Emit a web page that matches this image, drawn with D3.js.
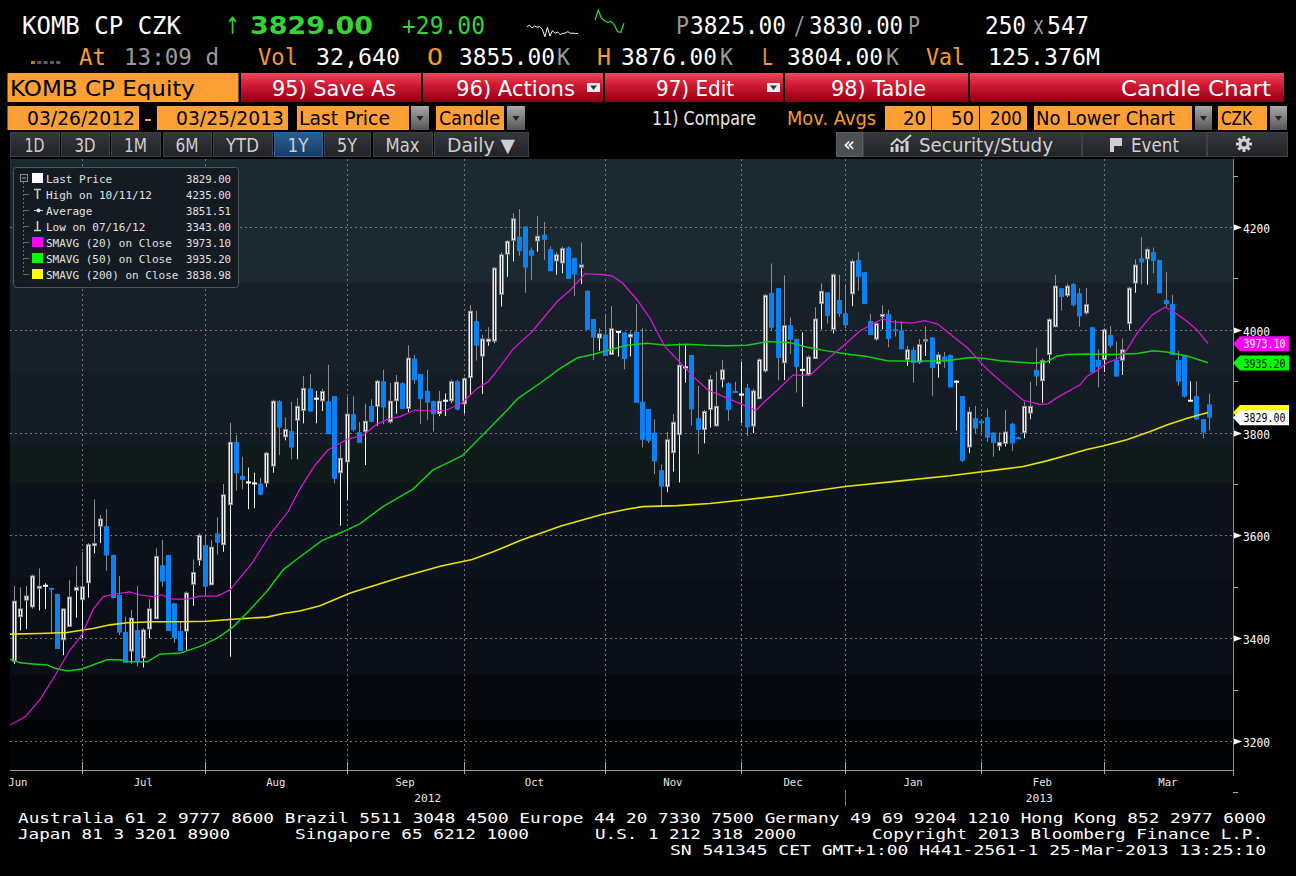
<!DOCTYPE html>
<html><head><meta charset="utf-8">
<script src="https://cdn.jsdelivr.net/npm/d3@7"></script>
<style>html,body{margin:0;padding:0;background:#000;overflow:hidden}svg{display:block}</style>
</head><body>
<svg id="c" width="1296" height="876"></svg>
<script>
// ---------------- DATA ----------------
const opens = [3354,3441,3473,3460,3496,3502,3498,3486,3396,3422,3492,3474,3507,3579,3617,3618,3562,3484,3412,3374,3416,3361,3417,3437,3542,3562,3468,3414,3413,3504,3551,3581,3503,3604,3581,3659,
3782,3716,3703,3701,3701,3701,3734,3861,3791,3803,3823,3842,3886,3866,3861,3861,3871,3721,3742,3836,3801,3801,3852,3850,3900,3820,3861,3896,3846,3944,3914,3881,3861,3836,3862,3861,3900,3855,
3906,4017,3948,3976,3977,4068,4146,4173,4181,4201,4155,4172,4185,4157,4133,4129,4160,4140,4121,4076,4021,3983,3991,3951,3996,3995,3985,3996,3860,3846,3800,3727,3694,3760,3795,3927,3951,3828,3805,3844,3812,3902,3896,3881,3874,3887,3812,3865,3919,4072,4081,
3935,4009,3982,3922,3912,3943,4050,4073,4000,4058,4032,4069,4136,4112,4017,3981,4025,4031,4001,3999,3941,3961,3936,3977,3985,3933,3948,3951,3899,3871,3771,3828,3823,3830,3800,3773,
3778,3817,3791,3799,3837,3922,3900,3951,4005,4081,4066,4089,4071,4032,4005,3941,3941,3990,3941,3940,4011,4090,4139,4137,4151,4136,4058,4050,3941,3949,3862,3871,3826,3855];
const highs = [3502,3499,3502,3524,3536,3507,3498,3487,3458,3513,3540,3568,3585,3670,3640,3651,3562,3521,3442,3455,3501,3420,3476,3575,3591,3562,3468,3431,3491,3553,3604,3601,3591,3635,3700,3819,
3795,3753,3732,3722,3712,3763,3864,3863,3830,3860,3867,3910,3914,3881,3885,3932,3871,3777,3870,3871,3821,3856,3865,3903,3922,3897,3912,3898,3970,3951,3914,3922,3862,3881,3876,3903,3903,3908,
4048,4037,3990,4005,4122,4151,4175,4227,4235,4201,4160,4221,4210,4162,4151,4162,4162,4140,4170,4077,4021,4003,4031,4046,3997,3995,3997,4050,4003,3846,3826,3738,3801,3836,3974,3970,3951,3891,3844,3912,3919,3941,3898,3899,3938,3895,3885,3945,4070,4129,4081,
4106,4024,3983,3995,3950,4044,4090,4073,4110,4107,4087,4137,4151,4112,4031,4015,4048,4039,4019,4016,3969,3967,3982,4007,3985,3957,3957,3952,3902,3871,3850,3852,3825,3847,3801,3800,
3844,3819,3792,3860,3899,3965,3944,4023,4107,4081,4090,4091,4081,4081,4005,3962,4003,4007,3977,3983,4084,4137,4180,4160,4160,4136,4112,4068,3959,3950,3900,3900,3826,3876];
const lows = [3350,3415,3418,3458,3454,3457,3408,3379,3367,3422,3440,3400,3479,3565,3585,3531,3478,3406,3352,3351,3345,3343,3400,3437,3500,3414,3391,3375,3377,3463,3541,3481,3503,3563,3568,3364,
3687,3690,3651,3653,3679,3694,3722,3756,3785,3748,3748,3818,3841,3818,3842,3797,3701,3619,3669,3802,3780,3737,3821,3813,3816,3818,3837,3846,3840,3895,3817,3825,3802,3832,3832,3858,3843,3837,
3873,3940,3875,3969,3974,4045,4103,4133,4144,4072,4097,4152,4136,4114,4107,4110,4099,4066,4089,4000,3941,3959,3949,3951,3948,3923,3948,3858,3771,3780,3719,3656,3684,3724,3703,3897,3814,3758,3779,3810,3812,3888,3823,3878,3818,3793,3799,3865,3917,4000,3902,
3902,3953,3878,3850,3910,3943,4001,4012,3993,4025,4003,4046,4076,4050,3990,3979,4001,3966,3987,3962,3930,3897,3934,3949,3871,3907,3926,3888,3804,3743,3760,3797,3800,3782,3753,3765,
3773,3764,3788,3789,3826,3891,3858,3935,4005,4037,4064,4045,4006,4030,3917,3888,3918,3965,3909,3912,3999,4072,4088,4088,4110,4071,4045,3951,3891,3868,3862,3824,3789,3804];
const closes = [3473,3458,3483,3522,3502,3502,3495,3379,3458,3481,3500,3501,3583,3585,3633,3561,3478,3411,3352,3440,3354,3417,3458,3560,3510,3414,3400,3375,3489,3529,3601,3500,3578,3586,3680,3782,
3721,3708,3703,3701,3679,3761,3862,3810,3807,3771,3852,3887,3841,3866,3881,3797,3710,3751,3837,3805,3780,3823,3821,3901,3849,3862,3899,3846,3946,3902,3865,3858,3836,3862,3862,3900,3845,3906,
4037,3969,3983,3983,4121,4147,4173,4217,4153,4121,4144,4183,4175,4114,4147,4159,4099,4108,4127,4000,3985,3993,3949,4003,3996,3943,3992,3858,3786,3784,3744,3695,3787,3821,3932,3927,3845,3805,3842,3904,3852,3923,3844,3878,3874,3810,3882,3943,4068,4004,3945,
4009,3981,3928,3922,3948,4022,4076,4027,4108,4031,4009,4134,4103,4050,3990,4013,4031,3982,3998,3962,3962,3935,3972,3982,3926,3952,3938,3888,3899,3745,3841,3808,3818,3790,3780,3782,
3802,3779,3789,3852,3852,3909,3941,4021,4086,4064,4086,4048,4026,4050,3917,3928,4001,3969,3909,3962,4082,4127,4131,4157,4134,4071,4050,3951,3899,3870,3862,3826,3800,3829];

// moving averages: [candle index, value]
const sma20 = [[-0.65,3231],[1.8,3247],[4.2,3280],[6.7,3328],[9.1,3377],[11,3406],[12.8,3455],[14.5,3481],[16.4,3486],[18.8,3490],[20.5,3484],[22.6,3481],[24,3484],[25.8,3476],[28.1,3476],[30.2,3482],[33,3482],[35.1,3494],[38.6,3545],[41.9,3607],[44.5,3646],[46.4,3690],[48.9,3737],[51,3766],[54.1,3787],[56.7,3795],[58.9,3816],[60.6,3826],[62.7,3831],[65.1,3844],[68,3842],[70.3,3844],[72.8,3858],[75.2,3886],[77,3899],[78.9,3928],[81,3962],[84.1,3996],[85.9,4022],[88.2,4055],[90.3,4077],[92.7,4109],[95.2,4108],[97.1,4105],[98.9,4090],[101.2,4058],[103.3,4022],[105.7,3967],[107.8,3941],[110.3,3909],[112.7,3883],[115.8,3867],[118.4,3854],[120.5,3843],[121.6,3857],[123.9,3882],[126.5,3912],[129.3,3912],[132,3942],[134.6,3968],[137.4,3998],[141,4021],[142.6,4016],[145.8,4013],[147.9,4018],[150,4011],[152.5,3987],[154.9,3964],[156.9,3937],[158.5,3918],[161.3,3889],[163.9,3863],[166.6,3855],[167.9,3856],[169.5,3869],[173.1,3893],[174.2,3909],[176,3922],[177.5,3936],[179.3,3944],[180.7,3961],[182.5,3996],[184.8,4029],[186.9,4044],[188,4038],[190.5,4016],[192.1,4000],[193.9,3973]];
const sma50 = [[-0.65,3359],[1,3352],[3.1,3350],[5.4,3348],[6.7,3341],[8.8,3336],[11,3340],[12.8,3348],[15.1,3358],[17.2,3358],[18.8,3354],[21.6,3354],[23.7,3369],[27,3371],[30.2,3384],[33,3400],[35.6,3422],[38.3,3455],[41.1,3492],[43.7,3533],[46.4,3558],[50,3590],[53.4,3607],[56.2,3623],[59.9,3656],[64.8,3690],[68,3727],[72.8,3755],[77,3806],[80.1,3844],[81.8,3866],[85.4,3896],[88.7,3925],[91.4,3945],[94,3952],[96.8,3961],[99.5,3970],[102.8,3974],[106,3970],[109.3,3972],[112.5,3970],[115.8,3969],[119,3970],[122.3,3977],[126,3975],[128.8,3966],[132,3959],[135.8,3952],[138.5,3948],[141.8,3940],[146,3939],[151.5,3940],[155.2,3946],[157.7,3944],[160.1,3940],[162.2,3938],[165.5,3935],[167.7,3938],[169.4,3949],[171,3952],[174.2,3953],[178.5,3952],[182.4,3954],[185,3959],[187.2,3957],[190.5,3949],[193.9,3936]];
const sma200 = [[-0.65,3408],[4.2,3409],[8.6,3411],[12.8,3419],[15.6,3426],[18.4,3430],[22.6,3432],[27,3432],[31.3,3433],[35.6,3437],[41.1,3441],[43.7,3448],[46.4,3453],[49.7,3463],[54.6,3488],[62.7,3518],[69.2,3540],[74.4,3553],[77.8,3568],[82.2,3590],[88.7,3618],[95.6,3641],[99.5,3651],[102.1,3656],[107.7,3658],[113,3662],[118.4,3669],[124.4,3677],[135,3695],[143.9,3706],[152,3716],[160.6,3729],[163.9,3734],[167.7,3745],[171,3756],[174.2,3767],[176.8,3774],[180.7,3786],[184.5,3802],[187.2,3815],[190.5,3828],[193.9,3839]];

const monthTicks = [11,31,54,73,96,118,135,157,177];
const monthNames = ["Jun","Jul","Aug","Sep","Oct","Nov","Dec","Jan","Feb","Mar"];
const yearNames = ["2012","2013"];
const yearBreakTick = 6; // index into monthTicks (Jan)
const yMajor = [3200,3400,3600,3800,4000,4200];
const yMinor = [3100,3300,3500,3700,3900,4100,4300];

const legendLabels = ["Last Price","High on 10/11/12","Average","Low on 07/16/12","SMAVG (20) on Close","SMAVG (50) on Close","SMAVG (200) on Close"];
const legendValues = ["3829.00","4235.00","3851.51","3343.00","3973.10","3935.20","3838.98"];
const tagValues = [3973.10, 3935.20, 3838.98, 3829.00];

const sparkW = [40,44,36,42,38,40,32,10,38,12,28,20,24,16,20,21,25,20,21,19,20];
const sparkG = [40,70,45,38,32,36,25,5,3,30];

const tabLabels = ["1D","3D","1M","6M","YTD","1Y","5Y","Max","Daily \u25BC"];
const footer1 = "Australia 61 2 9777 8600 Brazil 5511 3048 4500 Europe 44 20 7330 7500 Germany 49 69 9204 1210 Hong Kong 852 2977 6000";
const footer2 = ["Japan 81 3 3201 8900","Singapore 65 6212 1000","U.S. 1 212 318 2000","Copyright 2013 Bloomberg Finance L.P."];
const footer3 = "SN 541345 CET  GMT+1:00 H441-2561-1 25-Mar-2013 13:25:10";

// ---------------- DRAW ----------------
const MONO = "'DejaVu Sans Mono','Liberation Mono',monospace";
const SANS = "'DejaVu Sans','Liberation Sans',sans-serif";
const svg = d3.select('#c');
svg.append('rect').attr('width',1296).attr('height',876).attr('fill','#000');
const defs = svg.append('defs');
function grad(id, stops){
  const g = defs.append('linearGradient').attr('id',id).attr('x1',0).attr('y1',0).attr('x2',0).attr('y2',1);
  stops.forEach(s=>g.append('stop').attr('offset',s[0]).attr('stop-color',s[1]));
}
grad('red',[['0%','#f04a5c'],['40%','#d21a33'],['100%','#8e0016']]);
grad('dd',[['0%','#a8a8a8'],['100%','#555']]);
grad('tab',[['0%','#34373c'],['100%','#202226']]);
grad('tab1',[['0%','#2a5d93'],['100%','#173d66']]);

function T(g,x,y,s,o={}){
  const t = g.append('text').attr('x',x).attr('y',y).text(s)
    .attr('font-family',o.ff||MONO).attr('font-size',o.fs||12).attr('fill',o.fill||'#fff');
  if(o.fw) t.attr('font-weight',o.fw);
  if(o.anchor) t.attr('text-anchor',o.anchor);
  if(o.len) t.attr('textLength',o.len).attr('lengthAdjust','spacingAndGlyphs');
  return t;
}
const GREEN='#36d336', ORANGE='#f59c2c', GREY='#9a9a9a', BOX='#fca035';

// ---- header ----
const hd = svg.append('g');
T(hd,22,34,'KOMB CP CZK',{fs:24,len:159});
T(hd,225,34,'\u2191',{fs:24,fill:GREEN,ff:SANS,len:15});
T(hd,250,34,'3829.00',{ff:SANS,fs:25,fw:'bold',fill:GREEN,len:123});
T(hd,402,34,'+29.00',{fs:24,fill:GREEN,len:83});
{
  const sx = d3.scaleLinear().domain([0,sparkW.length-1]).range([527,578]);
  const sy = d3.scaleLinear().domain([10,44]).range([36.7,25.3]);
  hd.append('path').attr('d',d3.line().x((d,i)=>sx(i)).y(d=>sy(d))(sparkW)).attr('fill','none').attr('stroke','#fff').attr('stroke-width',1);
  const gx = d3.scaleLinear().domain([0,sparkG.length-1]).range([595,624]);
  const gy = d3.scaleLinear().domain([3,70]).range([32.3,10]);
  hd.append('path').attr('d',d3.line().x((d,i)=>gx(i)).y(d=>gy(d))(sparkG)).attr('fill','none').attr('stroke','#2ee02e').attr('stroke-width',1.2);
}
T(hd,676,34,'P',{fs:24,fill:GREY,len:13});
T(hd,690,34,'3825.00',{fs:24,len:96});
T(hd,794,34,'/',{fs:24,fill:GREY,len:11});
T(hd,809,34,'3830.00',{fs:24,len:94});
T(hd,908,34,'P',{fs:24,fill:GREY,len:12});
T(hd,985,34,'250',{fs:24,len:41});
T(hd,1033,34,'x',{fs:24,fill:GREY,len:11});
T(hd,1047,34,'547',{fs:24,len:42});

// row 2
[0,1,2,3,4].forEach(k=>hd.append('rect').attr('x',31+k*6.3).attr('y',61).attr('width',4).attr('height',3).attr('fill',k===0?'#c47a25':'#5e5e5e'));
T(hd,79,65,'At',{fs:23,fill:ORANGE,len:27});
T(hd,124,65,'13:09 d',{fs:23,fill:GREY,len:95});
T(hd,258,65,'Vol',{fs:23,fill:ORANGE,len:40});
T(hd,316,65,'32,640',{fs:23,len:84});
T(hd,427,65,'O',{fs:23,fill:ORANGE,len:16});
T(hd,459,65,'3855.00',{fs:23,len:96});
T(hd,557,65,'K',{fs:23,fill:GREY,len:13});
T(hd,597,65,'H',{fs:23,fill:ORANGE,len:14});
T(hd,621,65,'3876.00',{fs:23,len:96});
T(hd,720,65,'K',{fs:23,fill:GREY,len:13});
T(hd,762,65,'L',{fs:23,fill:ORANGE,len:11});
T(hd,787,65,'3804.00',{fs:23,len:96});
T(hd,886,65,'K',{fs:23,fill:GREY,len:13});
T(hd,926,65,'Val',{fs:23,fill:ORANGE,len:39});
T(hd,988,65,'125.376M',{fs:23,len:112});

// row 3 (buttons)
hd.append('rect').attr('x',7.5).attr('y',73).attr('width',231).attr('height',29).attr('fill',BOX);
T(hd,10,96,'KOMB CP Equity',{ff:SANS,fs:22,fill:'#000',len:185});
const btns = [[241,421,'95) Save As',272,124,false],[423,603,'96) Actions',456,119,true],[605,783,'97) Edit',656,78,true],[785,968,'98) Table',831,95,false]];
btns.forEach(b=>{
  hd.append('rect').attr('x',b[0]).attr('y',73).attr('width',b[1]-b[0]).attr('height',29).attr('fill','url(#red)');
  T(hd,b[3],96,b[2],{ff:SANS,fs:21,len:b[4]});
  if(b[5]){
    const ix=b[1]-16;
    hd.append('rect').attr('x',ix).attr('y',83).attr('width',13).attr('height',9).attr('fill','#eee');
    hd.append('path').attr('d',`M${ix+3},85.5L${ix+10},85.5L${ix+6.5},90Z`).attr('fill','#333');
  }
});
hd.append('rect').attr('x',970).attr('y',73).attr('width',314).attr('height',29).attr('fill','url(#red)');
T(hd,1271,96,'Candle Chart',{ff:SANS,fs:21,anchor:'end',len:150});

// row 4
const boxes = [[7.5,139],[157,288],[297,409],[436,504],[885,931],[932,979],[980,1027],[1034,1192],[1218,1267]];
boxes.forEach(b=>hd.append('rect').attr('x',b[0]).attr('y',106).attr('width',b[1]-b[0]).attr('height',24).attr('fill',BOX));
hd.append('rect').attr('x',145).attr('y',119).attr('width',6).attr('height',2).attr('fill',BOX);
[[411,429],[507,525],[1195,1212],[1270,1287]].forEach(b=>{
  hd.append('rect').attr('x',b[0]).attr('y',106).attr('width',b[1]-b[0]).attr('height',24).attr('fill','url(#dd)');
  const c=(b[0]+b[1])/2;
  hd.append('path').attr('d',`M${c-3.5},116L${c+3.5},116L${c},121Z`).attr('fill','#222');
});
T(hd,27,125,'03/26/2012',{ff:SANS,fs:20,fill:'#000',len:108});
T(hd,176,125,'03/25/2013',{ff:SANS,fs:20,fill:'#000',len:108});
T(hd,299,125,'Last Price',{ff:SANS,fs:20,fill:'#000',len:91});
T(hd,439,125,'Candle',{ff:SANS,fs:20,fill:'#000',len:61});
T(hd,652,125,'11) Compare',{ff:SANS,fs:20,fill:'#e8e8e8',len:104});
T(hd,787,125,'Mov. Avgs',{ff:SANS,fs:20,fill:ORANGE,len:89});
T(hd,926,125,'20',{ff:SANS,fs:20,fill:'#000',anchor:'end',len:23});
T(hd,974,125,'50',{ff:SANS,fs:20,fill:'#000',anchor:'end',len:23});
T(hd,1022,125,'200',{ff:SANS,fs:20,fill:'#000',anchor:'end',len:32});
T(hd,1036,125,'No Lower Chart',{ff:SANS,fs:20,fill:'#000',len:139});
T(hd,1221,125,'CZK',{ff:SANS,fs:20,fill:'#000',len:31});

// row 5 tabs
const tabs = [[10,59,20],[61,109,21],[111,160,23],[163,211,23],[213,272,33],[274,322,21],[324,370,20],[373,432,34],[434,528,68]];
tabs.forEach((t,k)=>{
  hd.append('rect').attr('x',t[0]+0.5).attr('y',132.5).attr('width',t[1]-t[0]).attr('height',24)
    .attr('fill',k===5?'url(#tab1)':'url(#tab)').attr('stroke',k===5?'#2f6298':'#3d4046');
  T(hd,(t[0]+t[1])/2,152,tabLabels[k],{ff:SANS,fs:19,fill:'#cfcfcf',anchor:'middle',len:t[2]});
});
hd.append('rect').attr('x',836.5).attr('y',132.5).attr('width',26).attr('height',24).attr('fill','#4c4f54').attr('stroke','#5a5d62');
T(hd,849,151,'\u00AB',{ff:SANS,fs:19,anchor:'middle'});
[[863,1081],[1082,1206],[1207,1287]].forEach(b=>hd.append('rect').attr('x',b[0]+0.5).attr('y',132.5).attr('width',b[1]-b[0]).attr('height',24).attr('fill','url(#tab)').attr('stroke','#3d4046'));
hd.append('path').attr('d','M892,152L892,147M897,152L897,144M902,152L902,146M907,152L907,141').attr('stroke','#cfcfcf').attr('stroke-width',3);
hd.append('path').attr('d','M891,145L897,139L902,143L911,135').attr('stroke','#cfcfcf').attr('stroke-width',2).attr('fill','none');
T(hd,919,152,'Security/Study',{ff:SANS,fs:19,fill:'#cfcfcf',len:134});
hd.append('path').attr('d','M1110,138L1122,138L1122,146L1114,146L1114,152L1110,152Z').attr('fill','#cfcfcf');
T(hd,1131,152,'Event',{ff:SANS,fs:19,fill:'#cfcfcf',len:48});
{
  const gcx=1244, gcy=144;
  const gg=hd.append('g');
  for(let k=0;k<8;k++){const a=k*Math.PI/4;gg.append('line').attr('x1',gcx).attr('y1',gcy).attr('x2',gcx+8*Math.cos(a)).attr('y2',gcy+8*Math.sin(a)).attr('stroke','#cfcfcf').attr('stroke-width',3);}
  gg.append('circle').attr('cx',gcx).attr('cy',gcy).attr('r',5.5).attr('fill','#cfcfcf');
  gg.append('circle').attr('cx',gcx).attr('cy',gcy).attr('r',2.5).attr('fill','#2a2c30');
}

// ---- plot ----
const P = {l:10,r:1233,t:159,b:770};
const x = d3.scaleLinear().domain([0,194]).range([14,1208.7]);
const y = d3.scaleLinear().domain([3200,4200]).range([741,227]);
const pg = svg.append('g');
const bands = [[159,283,'#1b2931'],[283,372,'#172029'],[372,445,'#141d26'],[445,483,'#111a1b'],[483,577,'#0c131c'],[577,675,'#0a0e17'],[675,720,'#06080d'],[720,770,'#020305']];
bands.forEach(b=>pg.append('rect').attr('x',P.l).attr('y',b[0]).attr('width',P.r-P.l).attr('height',b[1]-b[0]).attr('fill',b[2]));

const grid = pg.append('g').attr('stroke','#767676').attr('stroke-dasharray','2,3').attr('stroke-width',1);
yMajor.forEach(v=>grid.append('line').attr('x1',P.l).attr('x2',P.r).attr('y1',Math.round(y(v))+0.5).attr('y2',Math.round(y(v))+0.5));
monthTicks.forEach(i=>{const xx=Math.round(x(i))+0.5;grid.append('line').attr('x1',xx).attr('x2',xx).attr('y1',P.t).attr('y2',P.b);});

// candles
const cg = pg.append('g');
const BLUE='#0b82f2';
opens.forEach((o,i)=>{
  const h=highs[i], l=lows[i], c=closes[i];
  const cx=Math.round(x(i));
  const yo=y(o), yc=y(c), yh=y(h), yl=y(l);
  const wx=cx+0.5;
  if(c>o){
    cg.append('line').attr('x1',wx).attr('x2',wx).attr('y1',yh).attr('y2',yc).attr('stroke','#8e8e8e');
    cg.append('line').attr('x1',wx).attr('x2',wx).attr('y1',yo).attr('y2',yl).attr('stroke','#f4f4f4');
    const bh=Math.max(2,yo-yc), top=Math.min(yc,yo-2);
    cg.append('rect').attr('x',cx-2).attr('y',top).attr('width',5).attr('height',bh).attr('fill','#8c8c8c');
    if(bh>=3) cg.append('rect').attr('x',cx-1).attr('y',top+1).attr('width',3).attr('height',bh-2).attr('fill','#f0f0f0');
    if(bh>=5) cg.append('rect').attr('x',cx).attr('y',top+2).attr('width',1).attr('height',bh-4).attr('fill','#2c3038');
  } else if(c<o){
    cg.append('line').attr('x1',wx).attr('x2',wx).attr('y1',yh).attr('y2',yl).attr('stroke','#8a8a8a');
    cg.append('rect').attr('x',cx-2).attr('y',yo).attr('width',5).attr('height',Math.max(2,yc-yo)).attr('fill',BLUE);
  } else {
    cg.append('line').attr('x1',wx).attr('x2',wx).attr('y1',yh).attr('y2',yl).attr('stroke','#f4f4f4');
    cg.append('rect').attr('x',cx-2).attr('y',yo-1).attr('width',5).attr('height',2).attr('fill','#fff');
  }
});

// moving averages
defs.append('clipPath').attr('id','pc').append('rect').attr('x',P.l).attr('y',P.t).attr('width',P.r-P.l).attr('height',P.b-P.t);
const line = d3.line().x(d=>x(d[0])).y(d=>y(d[1]));
const mg = pg.append('g').attr('clip-path','url(#pc)').attr('fill','none');
mg.append('path').attr('d',line(sma200)).attr('stroke','#e4e400').attr('stroke-width',1.6);
mg.append('path').attr('d',line(sma50)).attr('stroke','#10d010').attr('stroke-width',1.5);
mg.append('path').attr('d',line(sma20)).attr('stroke','#e014e0').attr('stroke-width',1.2);

// right axis
const ag = svg.append('g');
ag.append('line').attr('x1',1233.5).attr('x2',1233.5).attr('y1',P.t).attr('y2',776).attr('stroke','#8a8a8a');
yMinor.forEach(v=>ag.append('line').attr('x1',1233).attr('x2',1238).attr('y1',Math.round(y(v))+0.5).attr('y2',Math.round(y(v))+0.5).attr('stroke','#aaa'));
yMajor.forEach(v=>{
  const yy=Math.round(y(v))+0.5;
  ag.append('path').attr('d',`M1234,${yy-3}L1242,${yy}L1234,${yy+3}Z`).attr('fill','#fff');
  T(ag,1243,yy+5,String(v),{fs:13,len:27});
});
// price tags
const tagStyle = [['#ff00ff','#fff'],['#00ff00','#000'],['#ffff00','#000'],['#ffffff','#000']];
tagValues.forEach((v,k)=>{
  const yc=y(v);
  ag.append('path').attr('d',`M1233,${yc}L1240,${yc-7.5}L1289,${yc-7.5}L1289,${yc+7.5}L1240,${yc+7.5}Z`).attr('fill',tagStyle[k][0]);
  if(k!==2) T(ag,1243.5,yc+4.5,v.toFixed(2),{fs:12,len:42,fill:tagStyle[k][1]});
});

// bottom axis
ag.append('line').attr('x1',P.l).attr('x2',P.r).attr('y1',770.5).attr('y2',770.5).attr('stroke','#9a9a9a');
monthTicks.forEach(i=>{const xx=Math.round(x(i))+0.5;ag.append('line').attr('x1',xx).attr('x2',xx).attr('y1',762).attr('y2',774).attr('stroke','#aaa');});
const avgLen = (monthTicks[monthTicks.length-1]-monthTicks[0])/(monthTicks.length-1);
const bounds = [monthTicks[0]-avgLen, ...monthTicks, monthTicks[monthTicks.length-1]+avgLen];
monthNames.forEach((m,k)=>{
  const cxm=(x(bounds[k])+x(bounds[k+1]))/2;
  T(ag,cxm,786,m,{fs:11,anchor:'middle',fill:'#e6e6e6',len:m.length*6.4});
});
const xb = x(monthTicks[yearBreakTick]);
T(ag,(P.l+xb)/2,802,yearNames[0],{fs:11,anchor:'middle',fill:'#e6e6e6',len:27});
T(ag,(xb+P.r)/2,802,yearNames[1],{fs:11,anchor:'middle',fill:'#e6e6e6',len:27});
ag.append('line').attr('x1',Math.round(xb)+0.5).attr('x2',Math.round(xb)+0.5).attr('y1',790).attr('y2',806).attr('stroke','#777');

// legend
const lg = svg.append('g');
lg.append('rect').attr('x',13.5).attr('y',167.5).attr('width',225).attr('height',120).attr('rx',3).attr('fill','#141b22').attr('stroke','#50565e');
lg.append('rect').attr('x',20.5).attr('y',174.5).attr('width',7).attr('height',7).attr('fill','none').attr('stroke','#8a8a8a');
lg.append('line').attr('x1',22).attr('x2',26).attr('y1',178).attr('y2',178).attr('stroke','#aaa');
lg.append('line').attr('x1',23.5).attr('x2',23.5).attr('y1',182).attr('y2',275).attr('stroke','#6a6a6a').attr('stroke-dasharray','2,2');
const legendColors = [null,null,null,null,'#ff00ff','#00ff00','#ffff00'];
legendLabels.forEach((s,k)=>{
  const yr=178+k*16;
  if(k>0) lg.append('line').attr('x1',24).attr('x2',29).attr('y1',yr+0.5).attr('y2',yr+0.5).attr('stroke','#6a6a6a');
  if(k===0) lg.append('rect').attr('x',32).attr('y',yr-5).attr('width',11).attr('height',10).attr('fill','#fff');
  if(legendColors[k]) lg.append('rect').attr('x',32).attr('y',yr-5).attr('width',11).attr('height',10).attr('fill',legendColors[k]);
  if(k===1){lg.append('path').attr('d',`M34,${yr-4.5}L41,${yr-4.5}M37.5,${yr-4.5}L37.5,${yr+5}`).attr('stroke','#ccc').attr('stroke-width',1.6);}
  if(k===2){lg.append('path').attr('d',`M34,${yr+0.5}L43,${yr+0.5}`).attr('stroke','#ccc');lg.append('circle').attr('cx',38.5).attr('cy',yr+0.5).attr('r',2).attr('fill','#ddd');}
  if(k===3){lg.append('path').attr('d',`M37.5,${yr-5}L37.5,${yr+4.5}M34,${yr+4.5}L41,${yr+4.5}`).attr('stroke','#ccc').attr('stroke-width',1.6);}
  T(lg,46,yr+4.5,s,{fs:11,fill:'#e2e2e2'});
  T(lg,231,yr+4.5,legendValues[k],{fs:11,fill:'#e2e2e2',anchor:'end',len:45});
});

// footer
const fg = svg.append('g');
T(fg,18,823,footer1,{fs:14.5,len:1248});
const f2x=[[18,212],[295,234],[595,201],[872,391]];
footer2.forEach((s,k)=>T(fg,f2x[k][0],839,s,{fs:14.5,len:f2x[k][1]}));
T(fg,1266,855,footer3,{fs:14.5,anchor:'end',len:596});
</script>
</body></html>
